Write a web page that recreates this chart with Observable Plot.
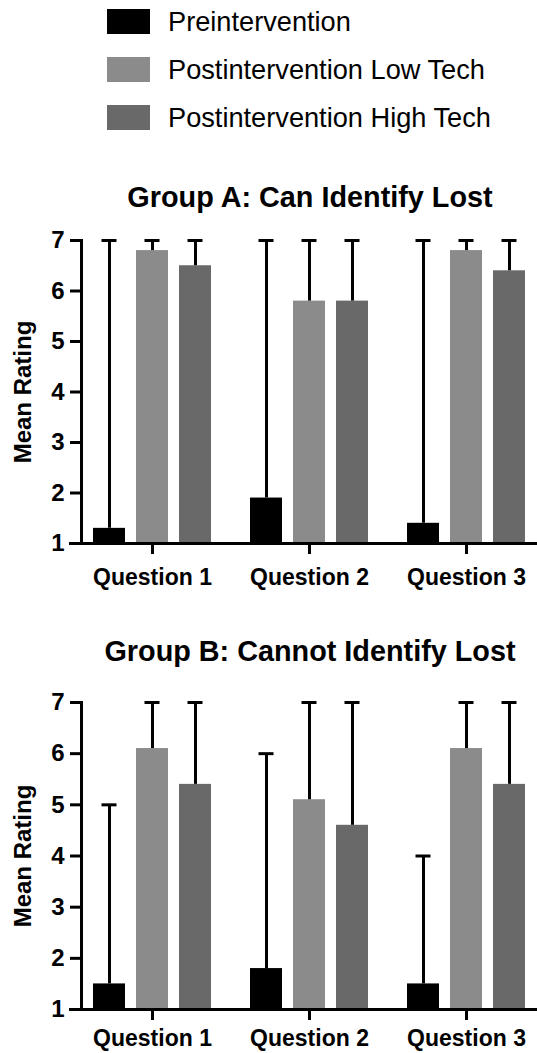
<!DOCTYPE html>
<html>
<head>
<meta charset="utf-8">
<script src="https://cdn.jsdelivr.net/npm/d3@7"></script>
<script src="https://cdn.jsdelivr.net/npm/@observablehq/plot@0.6"></script>
<style>
  html, body { margin: 0; padding: 0; background: #fff; }
  #root { position: relative; width: 537px; height: 1053px; overflow: hidden; background: #fff;
          font-family: 'Liberation Sans', Arial, Helvetica, sans-serif; color: #000; }
  .legend-item { position: absolute; left: 107px; height: 25px; }
  .swatch { width: 43px; height: 25px; }
  .legend-label { position: absolute; left: 61px; top: 0; white-space: nowrap; font-size: 27.2px; line-height: 25px; }
  .title { position: absolute; left: 80px; width: 460px; text-align: center; font-weight: bold;
           font-size: 28.8px; line-height: 28px; white-space: nowrap; }
  .chart { position: absolute; left: 0; }
</style>
</head>
<body>
<div id="root">
  <div id="legend"></div>
  <div class="title" style="top:183px">Group A: Can Identify Lost</div>
  <div id="chartA" class="chart" style="top:225px"></div>
  <div class="title" style="top:637px">Group B: Cannot Identify Lost</div>
  <div id="chartB" class="chart" style="top:687px"></div>
</div>
<script>
// ---- data ----
const questions = ["Question 1", "Question 2", "Question 3"];
const series = ["Preintervention", "Postintervention Low Tech", "Postintervention High Tech"];
const seriesColors = ["#000000", "#8b8b8b", "#696969"];
const yTicks = [1, 2, 3, 4, 5, 6, 7];
const yLabel = "Mean Rating";

// mean rating per question (rows) and series (columns)
const groupAMean  = [[1.3, 6.8, 6.5], [1.9, 5.8, 5.8], [1.4, 6.8, 6.4]];
const groupAUpper = [[7, 7, 7], [7, 7, 7], [7, 7, 7]];
const groupBMean  = [[1.5, 6.1, 5.4], [1.8, 5.1, 4.6], [1.5, 6.1, 5.4]];
const groupBUpper = [[5, 7, 7], [6, 7, 7], [4, 7, 7]];

// ---- legend ----
const legend = document.getElementById("legend");
const legendTops = [9, 57, 105];
series.forEach((s, j) => {
  const item = document.createElement("div");
  item.className = "legend-item";
  item.style.top = legendTops[j] + "px";
  const sw = document.createElement("div");
  sw.className = "swatch";
  sw.style.background = seriesColors[j];
  const lab = document.createElement("div");
  lab.className = "legend-label";
  lab.textContent = s;
  item.appendChild(sw);
  item.appendChild(lab);
  legend.appendChild(item);
});

// ---- charts ----
function chart(mean, upper, height, marginBottom, xPadding) {
  const data = questions.flatMap((q, i) => series.map((s, j) => ({
    question: q, series: s, mean: mean[i][j], upper: upper[i][j]
  })));
  return Plot.plot({
    width: 537,
    height,
    marginTop: 15,
    marginBottom,
    marginLeft: 80,
    marginRight: 0,
    style: {
      fontFamily: "'Liberation Sans', Arial, Helvetica, sans-serif",
      fontWeight: "bold",
      fontSize: "23px",
      color: "#000",
      background: "transparent",
      overflow: "visible"
    },
    fx: { domain: questions, paddingInner: 0.098, paddingOuter: 0, label: null },
    x: { domain: series, paddingInner: 0.256, paddingOuter: 0.279, axis: null },
    y: { domain: [1, 7], label: null },
    color: { domain: series, range: seriesColors },
    marks: [
      Plot.barY(data, { fx: "question", x: "series", y1: 1, y2: "mean", fill: "series" }),
      Plot.ruleX(data, { fx: "question", x: "series", y1: "mean", y2: "upper", stroke: "#000", strokeWidth: 3 }),
      Plot.tickY(data, { fx: "question", x: "series", y: "upper", stroke: "#000", strokeWidth: 3, insetLeft: 8.5, insetRight: 8.5 }),
      Plot.ruleY([1], { stroke: "#000", strokeWidth: 3, insetLeft: -12, insetRight: -12 }),
      Plot.frame({ anchor: "left", facetAnchor: "left", stroke: "#000", strokeWidth: 3 }),
      Plot.axisY({ ticks: yTicks, tickFormat: d3.format("d"), tickSize: 11, tickPadding: 6, strokeWidth: 3,
                   fontSize: 24, label: null }),
      Plot.text([yLabel], { frameAnchor: "left", facetAnchor: "left", textAnchor: "middle", rotate: -90, dx: -58,
                            fontSize: 24, fontWeight: "bold", fill: "#000" }),
      Plot.axisFx({ anchor: "bottom", tickSize: 11, tickPadding: xPadding, strokeWidth: 3, fontSize: 23, label: null })
    ]
  });
}

document.getElementById("chartA").appendChild(chart(groupAMean, groupAUpper, 375, 57, 14));
document.getElementById("chartB").appendChild(chart(groupBMean, groupBUpper, 366, 44, 9));
</script>
</body>
</html>
